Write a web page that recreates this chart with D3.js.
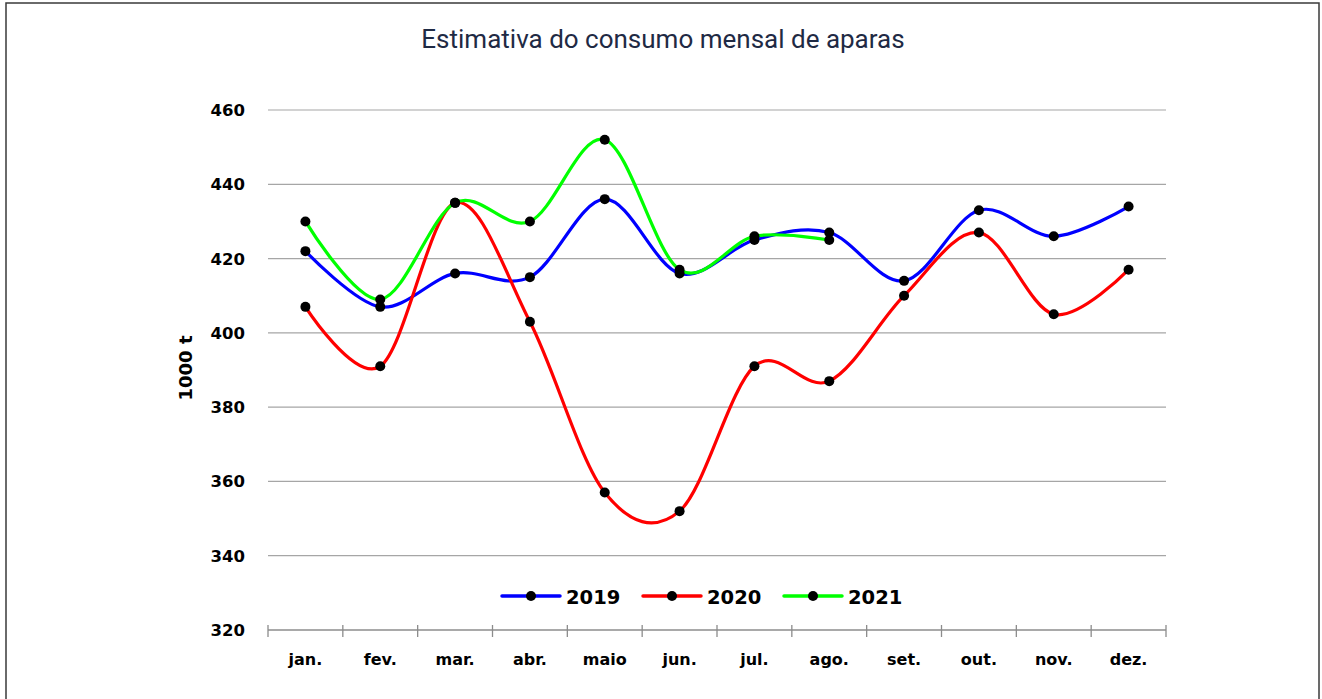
<!DOCTYPE html>
<html><head><meta charset="utf-8">
<script src="https://cdn.jsdelivr.net/npm/d3@7"></script>
<style>html,body{margin:0;padding:0;background:#fff;}svg{display:block;}</style>
</head><body>
<svg id="chart" width="1322" height="699"></svg>
<script>
const months = ["jan.","fev.","mar.","abr.","maio","jun.","jul.","ago.","set.","out.","nov.","dez."];
const yTicks = [320,340,360,380,400,420,440,460];
const s2019 = [422,407,416,415,436,416,425,427,414,433,426,434];
const s2020 = [407,391,435,403,357,352,391,387,410,427,405,417];
const s2021 = [430,409,435,430,452,417,426,425];
const seriesNames = ["2019","2020","2021"];
const seriesColors = ["#0000ff","#ff0000","#00ff00"];
const series = [s2019, s2020, s2021];

const svg = d3.select("#chart");
svg.append("rect").attr("x",6).attr("y",3).attr("width",1313).attr("height",720)
  .attr("fill","#fff").attr("stroke","#3a3a3a").attr("stroke-width",1.5);

const x0 = 268, x1 = 1166, yb = 630, yt = 110;
const x = d3.scaleBand().domain(months).range([x0,x1]);
const y = d3.scaleLinear().domain([320,460]).range([yb,yt]);
const cx = m => x(m) + x.bandwidth()/2;

svg.append("text").attr("x",663).attr("y",48).attr("text-anchor","middle")
  .attr("font-family","Roboto").attr("font-size",26).attr("fill","#1f2a44")
  .text("Estimativa do consumo mensal de aparas");

// gridlines
svg.append("g").selectAll("line").data(yTicks.filter(d=>d>320)).join("line")
  .attr("x1",x0).attr("x2",x1).attr("y1",d=>y(d)).attr("y2",d=>y(d))
  .attr("stroke","#a6a6a6").attr("stroke-width",1.2);

// y labels
svg.append("g").selectAll("text").data(yTicks).join("text")
  .attr("x",245).attr("y",d=>y(d)+6).attr("text-anchor","end")
  .attr("font-family","DejaVu Sans").attr("font-weight","bold").attr("font-size",16.5).attr("fill","#000")
  .text(d=>d);

// x axis
const xAxis = svg.append("g");
xAxis.append("line").attr("x1",x0).attr("x2",x1).attr("y1",yb).attr("y2",yb).attr("stroke","#8c8c8c").attr("stroke-width",1.3);
const bounds = months.map(m=>x(m)).concat([x1]);
xAxis.selectAll("line.tick").data(bounds).join("line").attr("class","tick")
  .attr("x1",d=>d).attr("x2",d=>d).attr("y1",yb-5).attr("y2",yb+7)
  .attr("stroke","#8c8c8c").attr("stroke-width",1.3);
xAxis.selectAll("text").data(months).join("text")
  .attr("x",d=>cx(d)).attr("y",665).attr("text-anchor","middle")
  .attr("font-family","DejaVu Sans").attr("font-weight","bold").attr("font-size",16).attr("fill","#000")
  .text(d=>d);

// y title
svg.append("text").attr("transform","translate(192,368) rotate(-90)").attr("text-anchor","middle")
  .attr("font-family","DejaVu Sans").attr("font-weight","bold").attr("font-size",18).attr("fill","#000")
  .text("1000 t");

const line = d3.line().x((d,i)=>cx(months[i])).y(d=>y(d)).curve(d3.curveCardinal.tension(0));
series.forEach((s,k)=>{
  svg.append("path").datum(s).attr("d",line).attr("fill","none")
    .attr("stroke",seriesColors[k]).attr("stroke-width",3.2).attr("stroke-linecap","round");
});
series.forEach((s,k)=>{
  svg.append("g").selectAll("circle").data(s).join("circle")
    .attr("cx",(d,i)=>cx(months[i])).attr("cy",d=>y(d)).attr("r",5).attr("fill","#000");
});

// legend
const legX = [502,643,784];
seriesNames.forEach((n,k)=>{
  const g = svg.append("g").attr("transform",`translate(${legX[k]},596)`);
  g.append("line").attr("x1",0).attr("x2",58).attr("y1",0).attr("y2",0)
    .attr("stroke",seriesColors[k]).attr("stroke-width",3.5).attr("stroke-linecap","round");
  g.append("circle").attr("cx",29).attr("cy",0).attr("r",5).attr("fill","#000");
  g.append("text").attr("x",64).attr("y",7.5).attr("font-family","DejaVu Sans").attr("font-weight","bold")
    .attr("font-size",19.5).attr("fill","#000").text(n);
});
</script>
</body></html>
